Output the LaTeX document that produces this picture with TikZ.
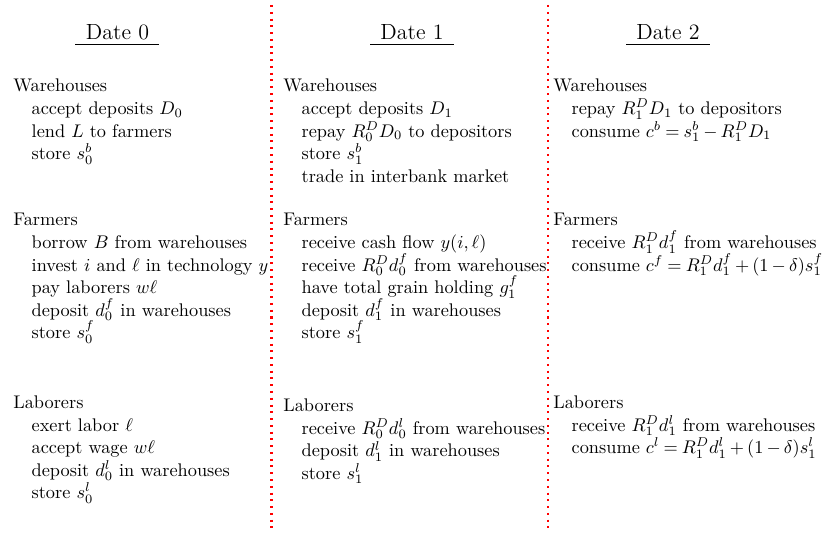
\documentclass[tikz,border=0pt]{standalone}
\newcommand{\myind}{\hspace*{1em}}
\newcommand{\grptext}[1]{\vtop{\baselineskip=12.3pt\lineskiplimit=-100pt\let\\\cr\halign{##\hfil\cr#1\crcr}}}
\newcommand{\tightmath}{\thickmuskip=4mu plus 2mu\medmuskip=3mu plus 1mu}
\tikzset{
  grp/.style={anchor=base west, inner sep=0pt, font=\normalsize},
  datehead/.style={font=\large, inner sep=0pt, anchor=base},
  uline/.style={line width=0.8pt},
  sepline/.style={red, line width=1.1pt, dash pattern=on 1.1pt off 2.6pt},
}
\begin{document}
\begin{tikzpicture}[x=0.5464pt, y=-0.5464pt]
\useasboundingbox (0,0) rectangle (825,533);
% separators
\coordinate (s1t) at (271.5,5);
\coordinate (s1b) at (271.5,531);
\coordinate (s2t) at (548.3,5);
\coordinate (s2b) at (548.3,531);
\draw[sepline] (s1t) -- (s1b);
\draw[sepline] (s2t) -- (s2b);
% date headers
\node[datehead] (d0) at (117.5,39.5) {Date 0};
\node[datehead] (d1) at (412,39.5) {Date 1};
\node[datehead] (d2) at (668,39.5) {Date 2};
\draw[uline] (75,44.5) -- (159,44.5);
\draw[uline] (370,44.5) -- (454,44.5);
\draw[uline] (626,44.5) -- (710,44.5);
% column 1
\node[grp] (w0) at (13,92) {\grptext{Warehouses\\
  \myind accept deposits $D_0$\\
  \myind lend $L$ to farmers\\
  \myind store $s_0^b$}};
\node[grp] (f0) at (13,226) {\grptext{Farmers\\
  \myind borrow $B$ from warehouses\\
  \myind invest $i$ and $\ell$ in technology $y$\\
  \myind pay laborers $w\ell$\\
  \myind deposit $d_0^f$ in warehouses\\
  \myind store $s_0^f$}};
\node[grp] (l0) at (13,408.5) {\grptext{Laborers\\
  \myind exert labor $\ell$\\
  \myind accept wage $w\ell$\\
  \myind deposit $d_0^l$ in warehouses\\
  \myind store $s_0^l$}};
% column 2
\node[grp] (w1) at (283,92) {\grptext{Warehouses\\
  \myind accept deposits $D_1$\\
  \myind repay $R_0^D D_0$ to depositors\\
  \myind store $s_1^b$\\
  \myind trade in interbank market}};
\node[grp] (f1) at (283,226) {\grptext{Farmers\\
  \myind receive cash flow $y(i,\ell)$\\
  \myind receive $R_0^D d_0^f$ from warehouses\\
  \myind have total grain holding $g_1^f$\\
  \myind deposit $d_1^f$ in warehouses\\
  \myind store $s_1^f$}};
\node[grp] (l1) at (283,411.7) {\grptext{Laborers\\
  \myind receive $R_0^D d_0^l$ from warehouses\\
  \myind deposit $d_1^l$ in warehouses\\
  \myind store $s_1^l$}};
% column 3
\node[grp] (w2) at (553,92) {\grptext{Warehouses\\
  \myind repay $R_1^D D_1$ to depositors\\
  \myind consume $\tightmath c^b = s_1^b - R_1^D D_1$}};
\node[grp] (f2) at (553,226) {\grptext{Farmers\\
  \myind receive $R_1^D d_1^f$ from warehouses\\
  \myind consume $\tightmath c^f = R_1^D d_1^f + (1-\delta) s_1^f$}};
\node[grp] (l2) at (553,408.5) {\grptext{Laborers\\
  \myind receive $R_1^D d_1^l$ from warehouses\\
  \myind consume $\tightmath c^l = R_1^D d_1^l + (1-\delta) s_1^l$}};
\end{tikzpicture}
\end{document}
